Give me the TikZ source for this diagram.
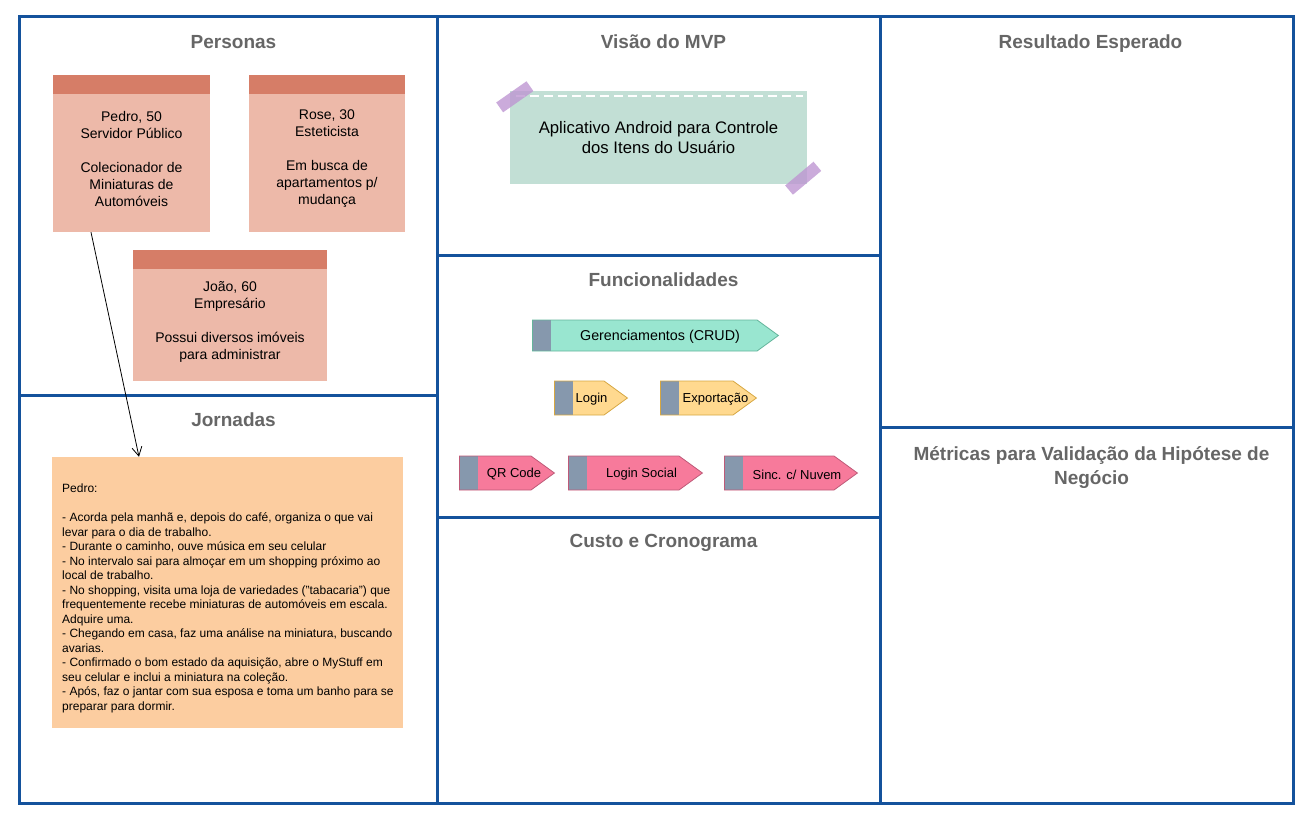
\documentclass[tikz,border=0pt]{standalone}
\usepackage{fontspec}
\setmainfont{Liberation Sans}
\usetikzlibrary{arrows.meta}
\usetikzlibrary{shapes.symbols}

\definecolor{frameblue}{RGB}{20,82,156}
\definecolor{titlegray}{RGB}{102,102,102}
\definecolor{noteband}{RGB}{214,125,103}
\definecolor{notebody}{RGB}{237,185,169}
\definecolor{journeynote}{RGB}{252,205,160}
\definecolor{visiongreen}{RGB}{194,223,213}
\definecolor{tapepurple}{RGB}{190,150,210}
\definecolor{tabgray}{RGB}{134,152,173}
\definecolor{crudgreen}{RGB}{153,230,208}
\definecolor{crudline}{RGB}{100,180,155}
\definecolor{featyellow}{RGB}{255,217,143}
\definecolor{yellowline}{RGB}{214,167,66}
\definecolor{featpink}{RGB}{247,122,155}
\definecolor{pinkline}{RGB}{190,90,120}

\tikzset{
	panel/.style={draw=frameblue, line width=3pt},
	title/.style={text=titlegray, font=\bfseries\fontsize{19}{24}\selectfont, align=center, text depth=0pt},
	persona/.style={fill=notebody, inner sep=0pt,
		path picture={\fill[noteband] (path picture bounding box.north west) rectangle ([yshift=-19pt]path picture bounding box.north east);}},
	ptext/.style={font=\fontsize{14}{17}\selectfont, align=center},
	tape/.style={fill=tapepurple, opacity=0.8, minimum width=37pt, minimum height=12pt, inner sep=0pt},
	feat/.style 2 args={shape=signal, signal to=east, signal pointer angle=72, fill=#1, draw=#2, line width=0.8pt,
		inner sep=0pt, anchor=west,
		path picture={\fill[tabgray] (path picture bounding box.south west) rectangle ([xshift=19pt]path picture bounding box.north west);}},
	featlabel/.style={font=\fontsize{13}{15}\selectfont, inner sep=0pt, yshift=-1.5pt}
}

\begin{document}
\begin{tikzpicture}[x=1pt, y=-1pt]
\useasboundingbox (0,0) rectangle (1305,824);
\begin{scope}
	% quadro
	\draw[panel] (19,17) rectangle (437,395);
	\draw[panel] (19,395) rectangle (437,803);
	\draw[panel] (437,17) rectangle (880,255);
	\draw[panel] (437,255) rectangle (880,517);
	\draw[panel] (437,517) rectangle (880,803);
	\draw[panel] (880,17) rectangle (1293,427);
	\draw[panel] (880,427) rectangle (1293,803);

	\node[title] (tPersonas) at (233.5,42) {Personas};
	\node[title] (tJornadas) at (233.5,420) {Jornadas};
	\node[title] (tVisao) at (663.5,42) {Visão do MVP};
	\node[title] (tFunc) at (663.5,280) {Funcionalidades};
	\node[title] (tCusto) at (663.5,541) {Custo e Cronograma};
	\node[title] (tResultado) at (1090.5,42) {Resultado Esperado};
	\node[title] (tMetricas) at (1091.5,466) {Métricas para Validação da Hipótese de\\Negócio};

	% personas
	\node[persona, minimum width=157pt, minimum height=157pt] (pedro) at (131.5,153.5) {};
	\node[persona, minimum width=156pt, minimum height=157pt] (rose) at (327,153.5) {};
	\node[persona, minimum width=194pt, minimum height=131pt] (joao) at (230,315.5) {};
	\node[ptext] (pedroTxt) at (131.5,158.5) {Pedro, 50\\Servidor Público\\[17pt]Colecionador de\\Miniaturas de\\Automóveis};
	\node[ptext] (roseTxt) at (327,158.5) {Rose, 30\\Esteticista\\[17pt]Em busca de\\apartamentos p/\\mudança};
	\node[ptext] (joaoTxt) at (230,321.5) {João, 60\\Empresário\\[17pt]Possui diversos imóveis\\para administrar};

	% jornada
	\node[fill=journeynote, minimum width=351pt, minimum height=271pt, inner sep=0pt] (jornada) at (227.5,592.5) {};
	\node[anchor=north west, inner sep=0pt, align=left, font=\fontsize{12}{14.5}\selectfont] (jornadaTxt) at (62,484) {Pedro:\\[14.5pt]
		- Acorda pela manhã e, depois do café, organiza o que vai\\
		levar para o dia de trabalho.\\
		- Durante o caminho, ouve música em seu celular\\
		- No intervalo sai para almoçar em um shopping próximo ao\\
		local de trabalho.\\
		- No shopping, visita uma loja de variedades ("tabacaria") que\\
		frequentemente recebe miniaturas de automóveis em escala.\\
		Adquire uma.\\
		- Chegando em casa, faz uma análise na miniatura, buscando\\
		avarias.\\
		- Confirmado o bom estado da aquisição, abre o MyStuff em\\
		seu celular e inclui a miniatura na coleção.\\
		- Após, faz o jantar com sua esposa e toma um banho para se\\
		preparar para dormir.};

	\draw[-{Straight Barb[length=9pt, width=10pt]}, line width=0.8pt] ([xshift=-40.5pt]pedro.south) -- ([xshift=-88.5pt]jornada.north);

	% visao do MVP
	\node[fill=visiongreen, minimum width=297pt, minimum height=93pt, inner sep=0pt, align=center,
		font=\fontsize{16.7}{20}\selectfont] (visao) at (658.5,137.5) {Aplicativo Android para Controle\\dos Itens do Usuário};
	\draw[white, line width=1.6pt, dash pattern=on 9pt off 5pt] ([xshift=6pt, yshift=-5pt]visao.north west) -- ([xshift=-4pt, yshift=-5pt]visao.north east);
	\node[tape, rotate=35] (tape1) at ([xshift=5pt, yshift=-6pt]visao.north west) {};
	\node[tape, rotate=40] (tape2) at ([xshift=-4pt, yshift=6pt]visao.south east) {};

	% funcionalidades
	\node[feat={crudgreen}{crudline}, minimum width=246pt, minimum height=31pt] (crud) at (532,335.5) {};
	\node[feat={featyellow}{yellowline}, minimum width=73pt, minimum height=34pt] (login) at (554,398) {};
	\node[feat={featyellow}{yellowline}, minimum width=96pt, minimum height=34pt] (export) at (660,398) {};
	\node[feat={featpink}{pinkline}, minimum width=95pt, minimum height=34pt] (qrcode) at (459,473) {};
	\node[feat={featpink}{pinkline}, minimum width=134pt, minimum height=34pt] (social) at (568,473) {};
	\node[feat={featpink}{pinkline}, minimum width=133pt, minimum height=34pt] (sinc) at (724,473) {};

	\node[featlabel, font=\fontsize{14.3}{16}\selectfont] (crudTxt) at ([xshift=128pt]crud.west) {Gerenciamentos (CRUD)};
	\node[featlabel] (loginTxt) at ([xshift=37.5pt]login.west) {Login};
	\node[featlabel] (exportTxt) at ([xshift=55.5pt]export.west) {Exportação};
	\node[featlabel] (qrcodeTxt) at ([xshift=55pt]qrcode.west) {QR Code};
	\node[featlabel] (socialTxt) at ([xshift=73.5pt]social.west) {Login Social};
	\node[featlabel] (sincTxt) at ([xshift=73pt]sinc.west) {Sinc. c/ Nuvem};
\end{scope}
\end{tikzpicture}
\end{document}
